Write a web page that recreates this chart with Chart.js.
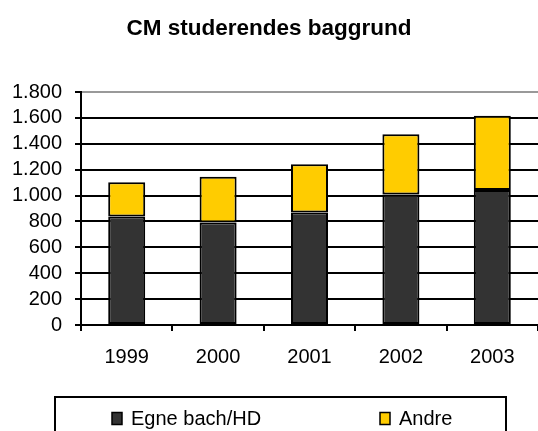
<!DOCTYPE html>
<html>
<head>
<meta charset="utf-8">
<title>CM studerendes baggrund</title>
<script src="https://cdn.jsdelivr.net/npm/chart.js@4"></script>
<style>
  html, body { margin: 0; padding: 0; background: #fff; }
  #wrap { width: 538px; height: 431px; position: relative; }
</style>
</head>
<body>
<div id="wrap"><canvas id="chart"></canvas></div>
<script>
// ── Data ───────────────────────────────────────────────────────────────────
const years      = ["1999", "2000", "2001", "2002", "2003"];
const egneBachHD = [838, 791, 869, 1008, 1043];
const andre      = [264, 355, 372, 466, 574];
const yTicks     = [0, 200, 400, 600, 800, 1000, 1200, 1400, 1600, 1800];

const fontFamily = "'Liberation Sans', Arial, Helvetica, sans-serif";
Chart.defaults.font.family = fontFamily;
Chart.defaults.color = "#000";

// Danish thousands separator: 1800 -> "1.800"
const fmt = (v) => String(v).replace(/\B(?=(\d{3})+(?!\d))/g, ".");

// ── Boxed legend drawn under the axis ──────────────────────────────────────
const boxedLegend = {
  id: "boxedLegend",
  afterDraw(chart) {
    const { ctx, chartArea } = chart;
    const top = chartArea.bottom + 72;
    ctx.save();
    ctx.strokeStyle = "#000";
    ctx.lineWidth = 2;
    ctx.strokeRect(55, top, 451, 80);

    ctx.font = `20px ${fontFamily}`;
    ctx.textBaseline = "middle";
    chart.data.datasets.forEach((ds, i) => {
      const x = 112 + i * 268;
      const y = top + 21.5;
      ctx.fillStyle = ds.backgroundColor;
      ctx.fillRect(x, y - 6, 10, 12);
      ctx.lineWidth = 1.5;
      ctx.strokeRect(x, y - 6, 10, 12);
      ctx.fillStyle = "#000";
      ctx.fillText(ds.label, x + 19, y + 1);
    });
    ctx.restore();
  },
};

new Chart(document.getElementById("chart"), {
  type: "bar",
  data: {
    labels: years,
    datasets: [
      {
        label: "Egne bach/HD",
        data: egneBachHD,
        backgroundColor: "#333333",
        borderColor: "#000",
        borderWidth: 2,
        borderSkipped: false,
      },
      {
        label: "Andre",
        data: andre,
        backgroundColor: "#FFCC00",
        borderColor: "#000",
        borderWidth: 2,
        borderSkipped: false,
      },
    ],
  },
  options: {
    responsive: true,
    maintainAspectRatio: false,
    animation: false,
    layout: { padding: { left: 0, right: 0, top: 0, bottom: 48 } },
    datasets: { bar: { categoryPercentage: 1, barPercentage: 0.405 } },
    plugins: {
      legend: { display: false },
      tooltip: { enabled: false },
      title: {
        display: true,
        text: "CM studerendes baggrund",
        color: "#000",
        font: { size: 22.5, weight: "bold" },
        padding: { top: 15, bottom: 50 },
      },
    },
    scales: {
      x: {
        stacked: true,
        grid: {
          offset: true,
          drawOnChartArea: false,
          drawTicks: true,
          tickLength: 6,
          color: "#000",
          lineWidth: 2,
        },
        border: { color: "#000", width: 2 },
        ticks: { color: "#000", font: { size: 20 }, padding: 14, maxRotation: 0 },
      },
      y: {
        stacked: true,
        min: yTicks[0],
        max: yTicks[yTicks.length - 1],
        afterBuildTicks: (s) => { s.ticks = yTicks.map((v) => ({ value: v })); },
        afterFit: (s) => { s.width = 81; },
        grid: {
          color: (c) => (c.tick && c.tick.value === 1800 ? "#999" : "#000"),
          tickColor: "#000",
          lineWidth: 2,
          tickLength: 6,
        },
        border: { color: "#000", width: 2 },
        ticks: {
          color: "#000",
          font: { size: 20 },
          padding: 13,
          autoSkip: false,
          callback: (v) => fmt(v),
        },
      },
    },
  },
  plugins: [boxedLegend],
});
</script>
</body>
</html>
